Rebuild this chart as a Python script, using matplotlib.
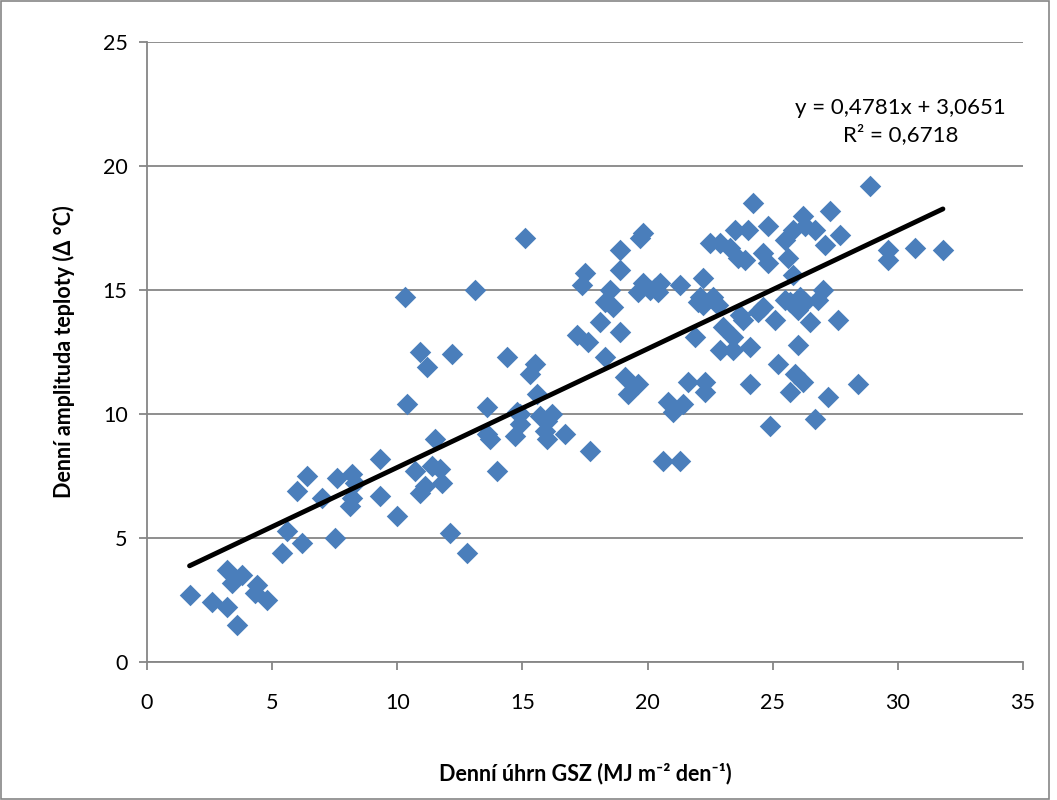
import matplotlib.pyplot as plt
from matplotlib.patches import Rectangle
import numpy as np

# Denni uhrn GSZ vs denni amplituda teploty
gsz = [1.7, 2.6, 3.2, 3.6, 3.2, 3.4, 3.8, 4.4, 4.3, 4.8,
       5.4, 5.6, 6.2, 6.4, 6.0, 7.0, 7.5, 7.6, 8.2, 8.3, 8.2, 8.1, 9.3, 9.3,
       10.0, 10.3, 10.4, 10.7, 10.9, 10.9, 11.1, 11.2, 11.4, 11.5, 11.7, 11.8,
       12.1, 12.2, 12.8, 13.1, 13.6, 13.6, 13.7, 14.0, 14.4, 14.7, 14.8, 14.9,
       15.1, 15.3, 15.5, 15.6, 15.7, 15.9, 16.0, 16.2, 16.7,
       17.2, 17.4, 17.5, 17.6, 17.7, 18.1, 18.3, 18.3, 18.5, 18.6, 18.9, 18.9,
       18.9, 19.1, 19.2, 19.6, 19.7, 19.8, 19.6, 19.8, 20.1, 20.5, 20.4, 20.6,
       20.8, 21.0, 21.3, 21.3, 21.4, 21.6, 21.9, 22.1, 22.2, 22.2, 22.3, 22.3,
       22.5, 22.6, 22.8, 22.9, 22.9, 23.0, 23.3, 23.4, 23.4, 23.5, 23.6, 23.8,
       23.9, 24.0, 24.1, 24.2, 24.1, 24.4, 24.6, 24.8, 24.8, 24.9, 25.1, 25.2,
       25.5, 25.6, 25.7, 25.7, 25.8, 25.8, 25.9, 26.0, 26.1, 26.2, 26.2, 26.3,
       26.3, 26.5, 26.7, 26.7, 26.8, 27.0, 27.1, 27.2, 27.3, 27.6, 27.7, 28.4,
       28.9, 29.6, 29.6, 30.7, 31.8,
       23.7, 24.6, 25.5, 26.0, 20.3, 22.0, 14.9, 16.0]
amplituda = [2.7, 2.4, 3.7, 1.5, 2.2, 3.2, 3.5, 3.1, 2.8, 2.5,
             4.4, 5.3, 4.8, 7.5, 6.9, 6.6, 5.0, 7.4, 7.6, 7.2, 6.6, 6.3, 8.2, 6.7,
             5.9, 14.7, 10.4, 7.7, 6.8, 12.5, 7.1, 11.9, 7.9, 9.0, 7.8, 7.2,
             5.2, 12.4, 4.4, 15.0, 10.3, 9.2, 9.0, 7.7, 12.3, 9.1, 10.1, 9.6,
             17.1, 11.6, 12.0, 10.8, 9.9, 9.3, 9.0, 10.0, 9.2,
             13.2, 15.2, 15.7, 12.9, 8.5, 13.7, 14.5, 12.3, 15.0, 14.3, 16.6, 15.8,
             13.3, 11.5, 10.8, 11.2, 17.1, 17.3, 14.9, 15.3, 15.0, 15.3, 14.9, 8.1,
             10.5, 10.1, 8.1, 15.2, 10.4, 11.3, 13.1, 14.7, 14.4, 15.5, 11.3, 10.9,
             16.9, 14.7, 14.4, 12.6, 16.9, 13.5, 16.7, 13.1, 12.6, 17.4, 16.3, 13.8,
             16.2, 17.4, 11.2, 18.5, 12.7, 14.1, 16.5, 16.1, 17.6, 9.5, 13.8, 12.0,
             17.0, 16.3, 14.5, 10.9, 15.6, 17.4, 11.6, 12.8, 14.7, 11.3, 18.0, 17.6,
             14.5, 13.7, 17.4, 9.8, 14.6, 15.0, 16.8, 10.7, 18.2, 13.8, 17.2, 11.2,
             19.2, 16.6, 16.2, 16.7, 16.6,
             14.0, 14.3, 14.6, 14.2, 15.1, 14.5, 10.0, 9.7]

slope = 0.4781
intercept = 3.0651

fig = plt.figure(figsize=(10.57, 8.0), dpi=100)
plt.rcParams['font.family'] = ['Lato', 'DejaVu Sans']
ax = fig.add_axes([147 / 1057, 1 - 662 / 800, (1023 - 147) / 1057, (662 - 42) / 800])

grid_col = '#868686'
ax.set_axisbelow(True)
ax.yaxis.grid(True, color=grid_col, linewidth=1.3)
ax.scatter(gsz, amplituda, marker='D', s=120, color='#4a7ebb', linewidths=0, zorder=3)

xfit = np.array([min(gsz), max(gsz)])
ax.plot(xfit, slope * xfit + intercept, color='black', linewidth=3.5, solid_capstyle='round', zorder=4)

ax.set_xlim(0, 35)
ax.set_ylim(0, 25)
ax.set_xticks(range(0, 36, 5))
ax.set_yticks(range(0, 26, 5))
ax.tick_params(axis='both', labelsize=15.5, direction='out', length=6, width=1.3, color=grid_col, pad=8)
ax.tick_params(axis='x', pad=16)
for s in ['top', 'right']:
    ax.spines[s].set_visible(False)
for s in ['left', 'bottom']:
    ax.spines[s].set_color(grid_col)
    ax.spines[s].set_linewidth(1.3)

ax.set_xlabel('Denní úhrn GSZ (MJ m⁻² den⁻¹)', fontsize=15.5, fontweight='bold', labelpad=36)
ax.set_ylabel('Denní amplituda teploty (Δ °C)', fontsize=15.5, fontweight='bold', labelpad=20)

ax.text(30.1, 21.8, 'y = 0,4781x + 3,0651\nR² = 0,6718', ha='center', va='center',
        fontsize=16, linespacing=1.35)

fig.patches.append(Rectangle((0.001, 0.001), 1048 / 1057, 0.998, transform=fig.transFigure,
                             fill=False, edgecolor=grid_col, linewidth=1.2))

fig.savefig('out.png', dpi=100)
